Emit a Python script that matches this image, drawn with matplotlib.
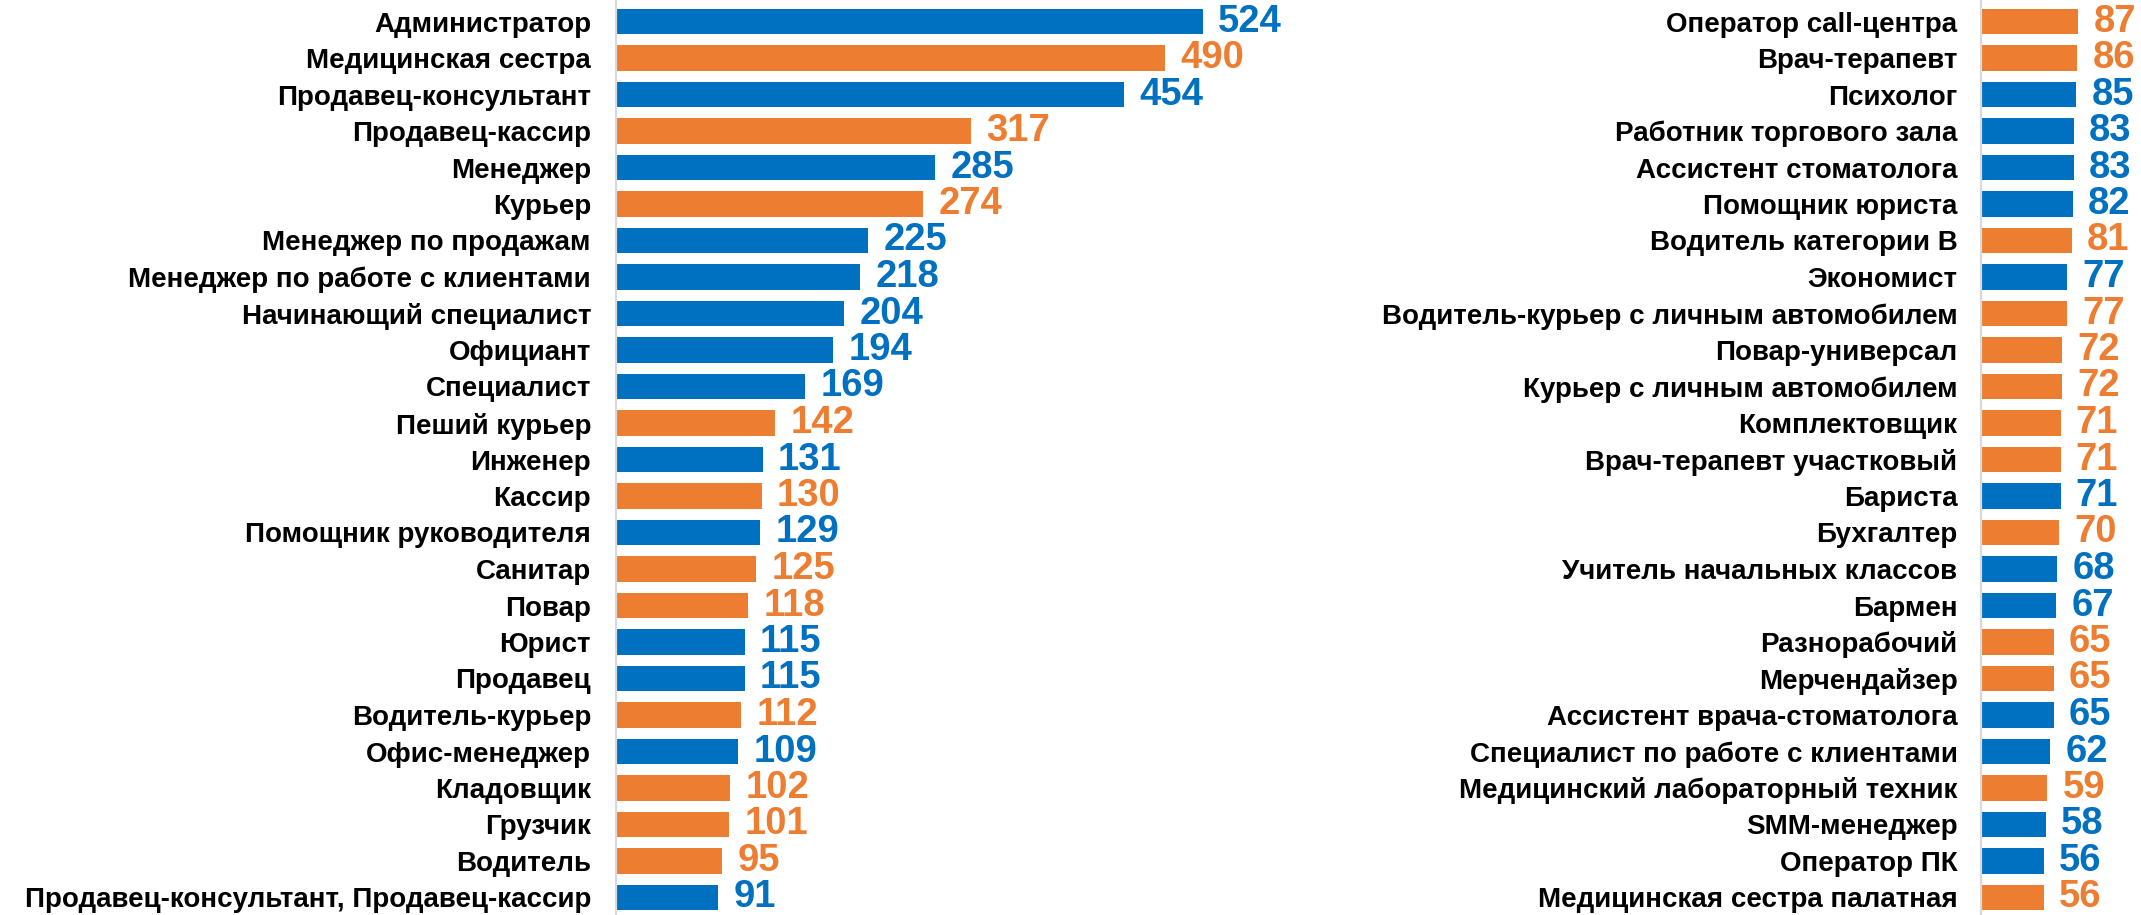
import matplotlib
matplotlib.use('Agg')
import matplotlib.pyplot as plt

plt.rcParams['font.family'] = ['Liberation Sans', 'DejaVu Sans']
plt.rcParams['font.weight'] = 'bold'

BLUE = '#0070C0'
ORANGE = '#ED7D31'
AXIS_GRAY = '#D9D9D9'

# Left column
left_names = [
    'Администратор', 'Медицинская сестра', 'Продавец-консультант', 'Продавец-кассир',
    'Менеджер', 'Курьер', 'Менеджер по продажам', 'Менеджер по работе с клиентами',
    'Начинающий специалист', 'Официант', 'Специалист', 'Пеший курьер', 'Инженер',
    'Кассир', 'Помощник руководителя', 'Санитар', 'Повар', 'Юрист', 'Продавец',
    'Водитель-курьер', 'Офис-менеджер', 'Кладовщик', 'Грузчик', 'Водитель',
    'Продавец-консультант, Продавец-кассир',
]
left_values = [524, 490, 454, 317, 285, 274, 225, 218, 204, 194, 169, 142, 131,
               130, 129, 125, 118, 115, 115, 112, 109, 102, 101, 95, 91]
left_groups = ['b', 'o', 'b', 'o', 'b', 'o', 'b', 'b', 'b', 'b', 'b', 'o', 'b',
               'o', 'b', 'o', 'o', 'b', 'b', 'o', 'b', 'o', 'o', 'o', 'b']

# Right column
right_names = [
    'Оператор call-центра', 'Врач-терапевт', 'Психолог', 'Работник торгового зала',
    'Ассистент стоматолога', 'Помощник юриста', 'Водитель категории В', 'Экономист',
    'Водитель-курьер с личным автомобилем', 'Повар-универсал',
    'Курьер с личным автомобилем', 'Комплектовщик', 'Врач-терапевт участковый',
    'Бариста', 'Бухгалтер', 'Учитель начальных классов', 'Бармен', 'Разнорабочий',
    'Мерчендайзер', 'Ассистент врача-стоматолога', 'Специалист по работе с клиентами',
    'Медицинский лабораторный техник', 'SMM-менеджер', 'Оператор ПК',
    'Медицинская сестра палатная',
]
right_values = [87, 86, 85, 83, 83, 82, 81, 77, 77, 72, 72, 71, 71, 71, 70, 68, 67,
                65, 65, 65, 62, 59, 58, 56, 56]
right_groups = ['o', 'o', 'b', 'b', 'b', 'b', 'o', 'b', 'o', 'o', 'o', 'o', 'o',
                'b', 'o', 'b', 'b', 'o', 'o', 'b', 'b', 'o', 'b', 'b', 'o']

W, H = 2141, 915
PPU = 1.12          # pixels per value unit (same for both panels)
ROW = 36.5          # row pitch in pixels
TOP = 21.5          # centre of first bar from top


def draw_panel(fig, x0, x1, names, values, groups, pad):
    ax = fig.add_axes([x0 / W, 0, (x1 - x0) / W, 1])
    n = len(names)
    colors = [BLUE if g == 'b' else ORANGE for g in groups]
    ypos = list(range(n))
    ax.barh(ypos, values, height=0.69, color=colors)
    ax.set_xlim(0, (x1 - x0) / PPU)
    ax.set_ylim((H - TOP) / ROW, -TOP / ROW)
    ax.set_yticks(ypos)
    ax.set_yticklabels(names, fontsize=20, fontweight='bold', color='black')
    ax.tick_params(axis='y', length=0, pad=pad)
    ax.set_xticks([])
    for s in ['top', 'right', 'bottom']:
        ax.spines[s].set_visible(False)
    ax.spines['left'].set_color(AXIS_GRAY)
    ax.spines['left'].set_linewidth(1.6)
    for y, v, c in zip(ypos, values, colors):
        ax.annotate(str(v), xy=(v, y), xytext=(11, 0), textcoords='offset points',
                    ha='left', va='center', fontsize=27.5, fontweight='bold', color=c)
    ax.patch.set_alpha(0)
    return ax


fig = plt.figure(figsize=(W / 100, H / 100), dpi=100)
draw_panel(fig, 616, 1400, left_names, left_values, left_groups, pad=18)
draw_panel(fig, 1981, W, right_names, right_values, right_groups, pad=17)

fig.savefig('out.png', dpi=100, facecolor='white')
